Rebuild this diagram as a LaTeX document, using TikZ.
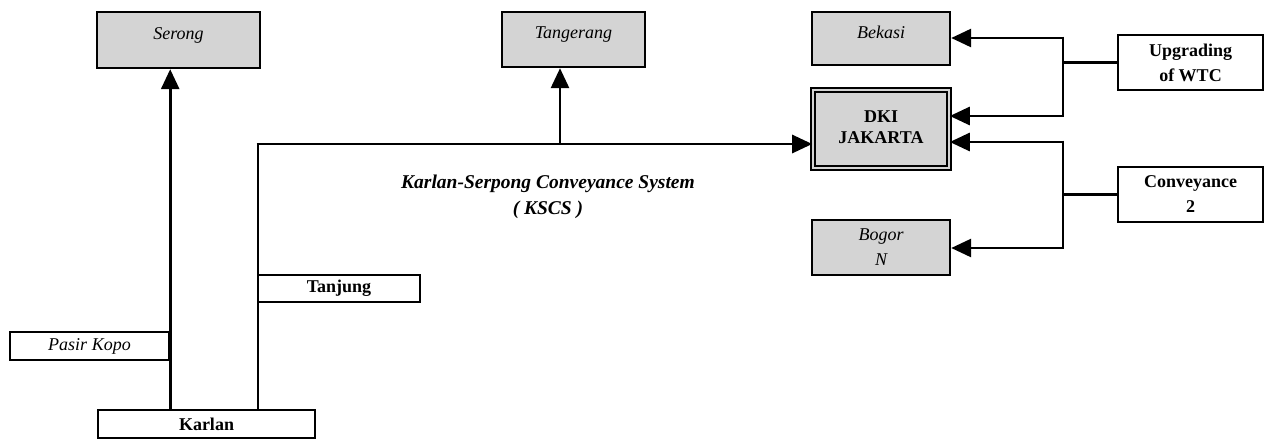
\documentclass[tikz,border=0pt]{standalone}
\usepackage{fontspec}
\setmainfont{Liberation Serif}
\usetikzlibrary{arrows.meta,calc}
\begin{document}
\begin{tikzpicture}[x=1pt,y=-1pt,
  box/.style={draw=black,line width=2.4pt,inner sep=0pt,align=center},
  shaded/.style={box,fill=black!17},
  plain/.style={box,fill=white},
  itf/.style={font=\itshape\fontsize{18}{25}\selectfont},
  bff/.style={font=\bfseries\fontsize{18}{25}\selectfont},
  conn/.style={line width=2.8pt},
  arr/.style={conn,-{Triangle[length=20pt,width=18pt]}}]
\useasboundingbox (0,0) rectangle (1273,442);
% nodes
\node[shaded,itf,minimum width=163pt,minimum height=56pt] (serong) at (178.5,40) {\raisebox{13pt}{Serong}};
\node[shaded,itf,minimum width=143pt,minimum height=55pt] (tang) at (573.5,39.5) {\raisebox{13pt}{Tangerang}};
\node[shaded,itf,minimum width=138pt,minimum height=53pt] (bekasi) at (881,38.5) {\raisebox{13pt}{Bekasi}};
\node[shaded,double=black!17,double distance=2pt,line width=1.6pt,minimum width=136pt,minimum height=78pt,font=\bfseries\fontsize{18}{22}\selectfont] (dki) at (881,129) {\raisebox{8pt}{\begin{tabular}{@{}c@{}}DKI\\[-1pt]JAKARTA\end{tabular}}};
\node[shaded,itf,minimum width=138pt,minimum height=55pt] (bogor) at (881,247.5) {Bogor\\N};
\node[plain,bff,minimum width=145pt,minimum height=55pt] (upg) at (1190.5,62.5) {Upgrading\\of WTC};
\node[plain,bff,minimum width=145pt,minimum height=55pt] (conv) at (1190.5,194.5) {Conveyance\\2};
\node[plain,bff,minimum width=217pt,minimum height=28pt] (karlan) at (206.5,424) {Karlan};
\node[plain,itf,minimum width=159pt,minimum height=28pt] (pasir) at (89.5,346) {Pasir Kopo};
\node[plain,bff,minimum width=162pt,minimum height=27pt] (tanjung) at (339,288.5) {Tanjung};
\node[font=\bfseries\itshape\fontsize{19.5}{26}\selectfont,align=center] (lbl) at (548,197) {Karlan-Serpong Conveyance System\\( KSCS )};
% coordinates
\coordinate (j) at (258,144);
\coordinate (t) at (560,144);
\coordinate (r1) at (1063,38);
\coordinate (r2) at (1063,116);
\coordinate (rm) at (1063,62.5);
\coordinate (r3) at (1063,142);
\coordinate (r4) at (1063,248);
\coordinate (rc) at (1063,194.5);
% connectors
\draw[arr] (karlan.north -| pasir.east) -- (serong.south -| pasir.east);
\draw[conn] (karlan.north -| j) -- (j);
\draw[arr] ($(j)+(-1.4,0)$) -- (dki.west |- j);
\draw[arr] (t) -- (tang.south -| t);
\draw[conn] (upg.west) -- (rm);
\draw[conn] ($(r1)+(0,-1.4)$) -- ($(r2)+(0,1.4)$);
\draw[arr] (r1) -- (bekasi.east |- r1);
\draw[arr] (r2) -- (dki.east |- r2);
\draw[conn] (conv.west) -- (rc);
\draw[conn] ($(r3)+(0,-1.4)$) -- ($(r4)+(0,1.4)$);
\draw[arr] (r3) -- (dki.east |- r3);
\draw[arr] (r4) -- (bogor.east |- r4);
\end{tikzpicture}
\end{document}
